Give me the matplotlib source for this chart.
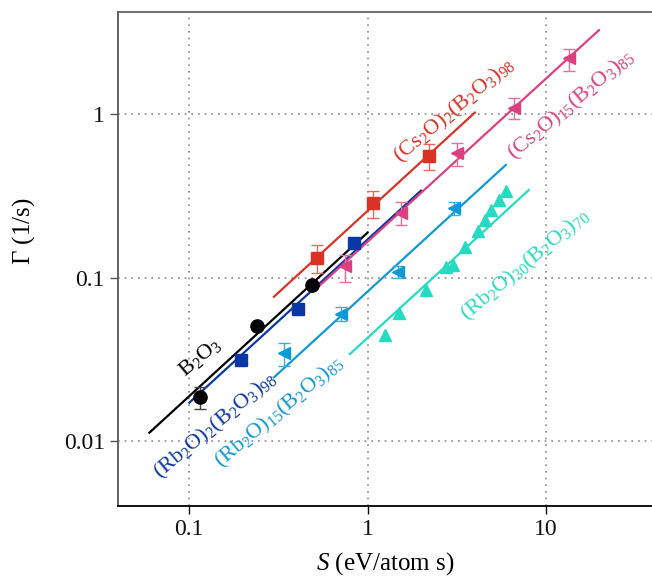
import matplotlib
matplotlib.use("Agg")
import matplotlib.pyplot as plt
from matplotlib.ticker import FixedLocator, FuncFormatter, NullLocator

plt.rcParams['font.family'] = ['Liberation Serif', 'DejaVu Serif']
plt.rcParams['mathtext.fontset'] = 'custom'
plt.rcParams['mathtext.rm'] = 'Liberation Serif'
plt.rcParams['mathtext.it'] = 'Liberation Serif:italic'

# B2O3
b_x = [0.115, 0.239, 0.49]
b_y = [0.0185, 0.0507, 0.0896]
b_lo = [0.0029, 0.0, 0.0]
b_hi = [0.003, 0.0, 0.0]
b_fit_x = [0.0597, 1.0]
b_fit_y = [0.01124, 0.188]

# (Rb2O)2(B2O3)98
rb2_x = [0.194, 0.407, 0.835]
rb2_y = [0.0313, 0.0645, 0.1626]
rb2_fit_x = [0.1, 1.995]
rb2_fit_y = [0.01715, 0.34]

# (Cs2O)2(B2O3)98
cs2_x = [0.519, 1.072, 2.21]
cs2_y = [0.131, 0.284, 0.556]
cs2_lo = [0.024, 0.052, 0.101]
cs2_hi = [0.026, 0.055, 0.099]
cs2_fit_x = [0.2985, 4.0]
cs2_fit_y = [0.0763, 1.02]

# (Cs2O)15(B2O3)85
cs15_x = [0.746, 1.54, 3.18, 6.65, 13.6]
cs15_y = [0.1175, 0.247, 0.575, 1.083, 2.19]
cs15_lo = [0.024, 0.038, 0.092, 0.155, 0.35]
cs15_hi = [0.0195, 0.044, 0.087, 0.175, 0.31]
cs15_fit_x = [0.495, 19.9]
cs15_fit_y = [0.082, 3.26]

# (Rb2O)15(B2O3)85
rb15_x = [0.34, 0.706, 1.475, 3.06]
rb15_y = [0.0344, 0.0598, 0.1085, 0.265]
rb15_lo = [0.0056, 0.0058, 0.0086, 0.024]
rb15_hi = [0.0055, 0.0062, 0.0095, 0.023]
rb15_fit_x = [0.2985, 5.97]
rb15_fit_y = [0.0245, 0.488]

# (Rb2O)30(B2O3)70
rb30_x = [1.252, 1.50, 2.12, 2.74, 3.0, 3.52, 4.18, 4.55, 4.96, 5.46, 5.95]
rb30_y = [0.0445, 0.0604, 0.0839, 0.1164, 0.119, 0.154, 0.192, 0.225, 0.259, 0.298, 0.338]
rb30_fit_x = [0.796, 8.04]
rb30_fit_y = [0.034, 0.343]

c_black = '#000000'
c_dblue = '#0a37a6'
c_red = '#d93226'
c_pink = '#dd4080'
c_lblue = '#0e9ad6'
c_turq = '#25dcc2'

fig = plt.figure(figsize=(6.52, 5.79), dpi=100)
ax = fig.add_axes([0.181, 0.126, 0.819, 0.853])

lw = 1.6
ax.plot(b_fit_x, b_fit_y, color=c_black, lw=lw, zorder=2)
ax.plot(rb2_fit_x, rb2_fit_y, color=c_dblue, lw=lw, zorder=2)
ax.plot(cs2_fit_x, cs2_fit_y, color=c_red, lw=lw, zorder=2)
ax.plot(cs15_fit_x, cs15_fit_y, color=c_pink, lw=lw, zorder=2)
ax.plot(rb15_fit_x, rb15_fit_y, color=c_lblue, lw=lw, zorder=2)
ax.plot(rb30_fit_x, rb30_fit_y, color=c_turq, lw=lw, zorder=2)

ekw = dict(ls='none', elinewidth=1.0, capsize=4, capthick=1.0, zorder=3)
ax.errorbar(b_x, b_y, yerr=[b_lo, b_hi], fmt='o', ms=9.5, color=c_black,
            ecolor='#444444', **ekw)
ax.plot(rb2_x, rb2_y, 's', ms=8, color=c_dblue, ls='none', zorder=3)
ax.errorbar(cs2_x, cs2_y, yerr=[cs2_lo, cs2_hi], fmt='s', ms=8, color=c_red,
            ecolor='#e46a62', **ekw)
ax.errorbar(cs15_x, cs15_y, yerr=[cs15_lo, cs15_hi], fmt='<', ms=9, color=c_pink,
            ecolor='#e56f9c', **ekw)
ax.errorbar(rb15_x, rb15_y, yerr=[rb15_lo, rb15_hi], fmt='<', ms=9, color=c_lblue,
            ecolor='#3aaee0', **ekw)
ax.plot(rb30_x, rb30_y, '^', ms=9, color=c_turq, ls='none', zorder=3)

ax.set_xscale('log')
ax.set_yscale('log')
ax.set_xlim(0.0398, 39.5)
ax.set_ylim(0.0040, 4.2)

fmt = FuncFormatter(lambda v, p: '%g' % v)
ax.xaxis.set_major_locator(FixedLocator([0.1, 1, 10]))
ax.yaxis.set_major_locator(FixedLocator([0.01, 0.1, 1]))
ax.xaxis.set_minor_locator(NullLocator())
ax.yaxis.set_minor_locator(NullLocator())
ax.xaxis.set_major_formatter(fmt)
ax.yaxis.set_major_formatter(fmt)
ax.tick_params(direction='out', length=6, width=1.0, labelsize=17, colors='#111111')
ax.tick_params(axis='y', color='#555555')
ax.grid(True, which='major', color='#888888', ls=(0, (1, 3)), lw=1.2)

ax.spines['right'].set_visible(False)
ax.spines['top'].set_color('#666666')
ax.spines['left'].set_color('#555555')
ax.spines['bottom'].set_color('#000000')
for s in ['top', 'left', 'bottom']:
    ax.spines[s].set_linewidth(1.3)

ax.set_xlabel(r'$S$ (eV/atom s)', fontsize=18, labelpad=7)
ax.set_ylabel(r'$\Gamma$ (1/s)', fontsize=18)
ax.yaxis.set_label_coords(-0.152, 0.557)

rot = 40
ax.text(0.115, 0.0325, r'$\mathrm{B_2O_3}$', color=c_black, fontsize=16,
        rotation=rot, ha='center', va='center')
ax.text(0.14, 0.0124, r'$\mathrm{(Rb_2O)_2(B_2O_3)_{98}}$', color=c_dblue, fontsize=16,
        rotation=rot, ha='center', va='center')
ax.text(0.32, 0.0150, r'$\mathrm{(Rb_2O)_{15}(B_2O_3)_{85}}$', color=c_lblue, fontsize=16,
        rotation=rot, ha='center', va='center')
ax.text(3.06, 1.045, r'$\mathrm{(Cs_2O)_2(B_2O_3)_{98}}$', color=c_red, fontsize=16,
        rotation=rot, ha='center', va='center')
ax.text(14.0, 1.13, r'$\mathrm{(Cs_2O)_{15}(B_2O_3)_{85}}$', color=c_pink, fontsize=16,
        rotation=rot, ha='center', va='center')
ax.text(7.7, 0.118, r'$\mathrm{(Rb_2O)_{30}(B_2O_3)_{70}}$', color=c_turq, fontsize=16,
        rotation=rot, ha='center', va='center')

fig.savefig('out.png', dpi=100)
